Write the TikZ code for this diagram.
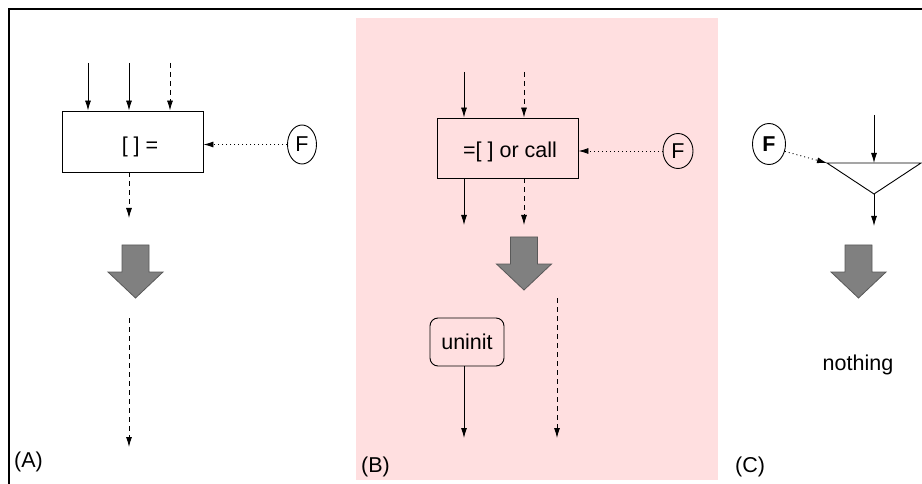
\documentclass[tikz,border=0pt]{standalone}
\usepackage{fontspec}
\setmainfont{Liberation Sans}
\usetikzlibrary{arrows.meta,shapes.geometric}
\definecolor{pinkbg}{RGB}{255,223,224}
\definecolor{bigfill}{RGB}{128,128,128}
\begin{document}
\begin{tikzpicture}[x=1pt,y=-1pt,
  every node/.style={font=\fontsize{21.5}{25}\selectfont, inner sep=0pt},
  flow/.style={line width=0.9pt, -{Latex[length=10pt,width=6pt]}},
  dflow/.style={flow, dash pattern=on 5pt off 4pt},
  fflow/.style={flow, dash pattern=on 1pt off 3pt},
  opbox/.style={draw, line width=0.9pt, rectangle},
  fnode/.style={draw, ellipse, line width=0.9pt},
  roundbox/.style={draw, line width=0.9pt, rectangle, rounded corners=8pt},
  bigdown/.pic={\filldraw[fill=bigfill, draw=black!65, line width=0.8pt]
     (-13.5,0) -- (13.5,0) -- (13.5,27) -- (27.5,27) -- (0,53) -- (-27.5,27) -- (-13.5,27) -- cycle;}
]
\useasboundingbox (0,0) rectangle (922,484);
% background of panel B
\fill[pinkbg] (356,18) rectangle (718,480);
% frame
\draw[line width=2.4pt] (9,484) -- (9,9) -- (922,9);

% ---------------- Panel A ----------------
\node[opbox, minimum width=141pt, minimum height=61pt] (boxA) at (132.5,141.5) {};
\node (txtA) at (140,147) {[ ] =};
\coordinate (a1) at (88,63);
\coordinate (a2) at (129,63);
\coordinate (a3) at (170,63);
\draw[flow] (a1) -- (a1 |- boxA.north);
\draw[flow] (a2) -- (a2 |- boxA.north);
\draw[dflow] (a3) -- (a3 |- boxA.north);
\coordinate (aout) at (129,218);
\draw[dflow] (aout |- boxA.south) -- (aout);
\node[fnode, minimum width=29pt, minimum height=39pt] (FA) at (302,144.5) {F};
\draw[fflow] (FA.west) -- (FA.west -| boxA.east);
\pic at (135.5,245) {bigdown};
\coordinate (a4s) at (129,318);
\coordinate (a4e) at (129,447);
\draw[dflow] (a4s) -- (a4e);
\node[anchor=west] (labA) at (14,462) {(A)};

% ---------------- Panel B ----------------
\node[opbox, minimum width=141pt, minimum height=60pt] (boxB) at (507.5,148) {};
\node (txtB) at (510,152) {=[ ] or call};
\coordinate (b1) at (464,72);
\coordinate (b2) at (524,72);
\draw[flow] (b1) -- (b1 |- boxB.north);
\draw[dflow] (b2) -- (b2 |- boxB.north);
\coordinate (b1o) at (464,225);
\coordinate (b2o) at (524,225);
\draw[flow] (b1o |- boxB.south) -- (b1o);
\draw[dflow] (b2o |- boxB.south) -- (b2o);
\node[fnode, minimum width=30pt, minimum height=35pt] (FB) at (678,151) {F};
\draw[fflow] (FB.west) -- (FB.west -| boxB.east);
\pic at (524,237) {bigdown};
\node[roundbox, minimum width=74pt, minimum height=48pt] (uninit) at (467,342) {uninit};
\coordinate (b3) at (464,438);
\draw[flow] (b3 |- uninit.south) -- (b3);
\coordinate (b4s) at (557,298);
\coordinate (b4e) at (557,438);
\draw[dflow] (b4s) -- (b4e);
\node[anchor=west] (labB) at (361,467) {(B)};

% ---------------- Panel C ----------------
\coordinate (tl) at (827,163);
\coordinate (tr) at (921,163);
\coordinate (tb) at (874,194);
\draw[line width=0.9pt, line join=miter] (tl) -- (tr) -- (tb) -- cycle;
\coordinate (c1) at (874,115);
\draw[flow] (c1) -- (c1 |- tl);
\coordinate (c2) at (874,226);
\draw[flow] (tb) -- (c2);
\node[fnode, minimum width=33pt, minimum height=41pt, font=\fontsize{21.5}{25}\selectfont\bfseries] (FC) at (769,144) {F};
\draw[fflow] (FC.-25) -- (tl);
\pic at (858.5,245) {bigdown};
\node (nothing) at (858,365) {nothing};
\node[anchor=west] (labC) at (735,467) {(C)};
\end{tikzpicture}
\end{document}
